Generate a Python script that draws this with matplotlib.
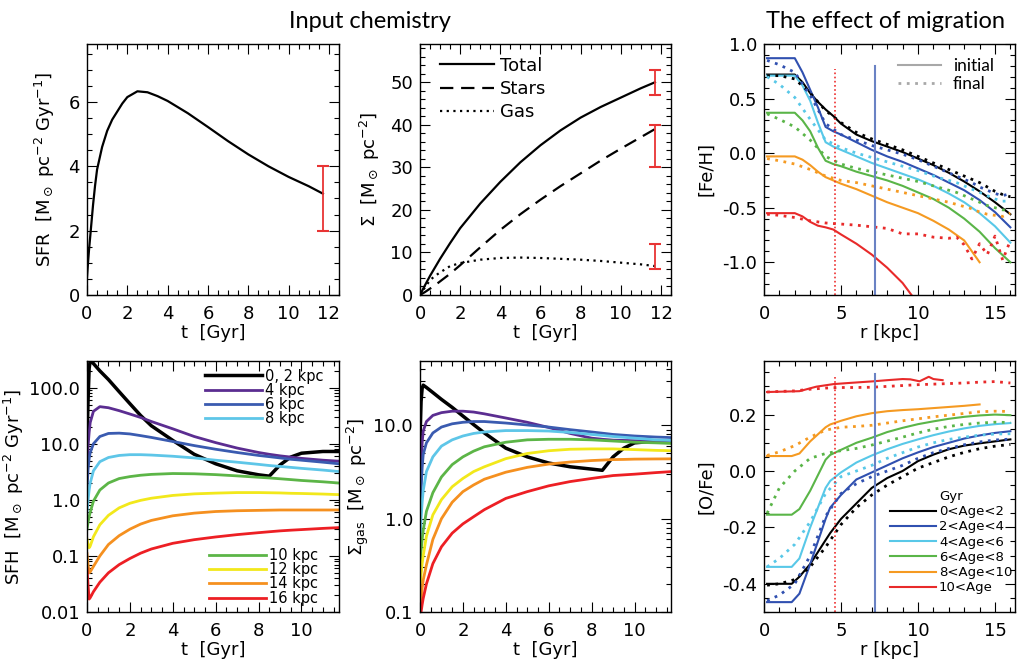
import numpy as np
import matplotlib
matplotlib.use("Agg")
import matplotlib.pyplot as plt
from matplotlib.ticker import MultipleLocator, FixedLocator, FuncFormatter, FormatStrFormatter, LogLocator, NullFormatter

# ---- input chemistry: SFR and surface densities ----
sfr_t = [0, 0.05, 0.1, 0.2, 0.3, 0.4, 0.5, 0.75, 1, 1.25, 1.5, 1.75, 2, 2.5, 3, 3.5, 4, 5, 6, 7, 8, 9, 10, 11, 11.7]
sfr = [0.55, 1.0, 1.4, 2.1, 2.8, 3.4, 3.9, 4.6, 5.1, 5.45, 5.7, 5.95, 6.15, 6.33, 6.3, 6.18, 6.03, 5.65, 5.22, 4.78, 4.37, 4.0, 3.67, 3.38, 3.15]
sfr_err = [11.7, 2.0, 4.0]          # t, low, high

mass_t = [0, 0.25, 0.5, 0.75, 1, 1.5, 2, 3, 4, 5, 6, 7, 8, 9, 10, 11, 11.7]
sig_total = [0, 2.3, 4.5, 6.5, 8.5, 12.2, 15.7, 21.5, 26.6, 31.2, 35.2, 38.7, 41.7, 44.2, 46.4, 48.6, 50]
sig_stars = [0, 0.7, 1.5, 2.3, 3.2, 5.0, 7.0, 11.2, 15.3, 19.0, 22.4, 25.6, 28.6, 31.6, 34.4, 37.1, 39]
sig_gas = [0, 1.8, 3.5, 4.5, 5.3, 6.8, 7.5, 8.3, 8.7, 8.8, 8.7, 8.5, 8.3, 8.0, 7.6, 7.2, 6.8]
sig_err_t = 11.7
sig_err = [(47, 53), (30, 40), (6, 12)]

# ---- SFH and gas per radius ----
t_disk = [0, 0.05, 0.1, 0.15, 0.3, 0.6, 1, 1.5, 2, 2.5, 3, 4, 5, 6, 7, 8, 8.5, 9, 9.5, 10, 11, 11.75]
radii = ['0, 2 kpc', '4 kpc', '6 kpc', '8 kpc', '10 kpc', '12 kpc', '14 kpc', '16 kpc']
radius_colors = ['black', '#5b2d91', '#3a5bb0', '#5ec6e8', '#5cb547', '#f2e81b', '#f5901f', '#ed1f24']

sfh_r2 = [10, 60, 220, 310, 270, 200, 140, 85, 52, 32, 21, 11.5, 6.5, 4.4, 3.3, 2.8, 2.65, 4.2, 5.8, 6.8, 7.3, 7.3]
sfh_r4 = [3, 9, 16, 24, 38, 46, 44, 39, 34, 29.5, 25, 18.5, 13.5, 10.5, 8.4, 7.0, 6.5, 6.1, 5.8, 5.5, 5.1, 4.9]
sfh_r6 = [1.5, 3.5, 5.5, 7, 10, 13.5, 15.3, 15.5, 15, 14, 13, 11, 9.3, 8.0, 7.0, 6.2, 5.9, 5.6, 5.3, 5.1, 4.7, 4.4]
sfh_r8 = [0.6, 1.0, 1.5, 2.0, 3.3, 4.8, 5.7, 6.2, 6.4, 6.4, 6.3, 6.0, 5.6, 5.1, 4.7, 4.3, 4.1, 3.95, 3.8, 3.65, 3.4, 3.2]
sfh_r10 = [0.3, 0.4, 0.5, 0.6, 0.95, 1.5, 2.0, 2.4, 2.6, 2.75, 2.85, 2.95, 2.92, 2.82, 2.68, 2.53, 2.46, 2.38, 2.3, 2.22, 2.1, 2.0]
sfh_r12 = [0.2, 0.16, 0.14, 0.15, 0.22, 0.36, 0.53, 0.72, 0.87, 0.98, 1.07, 1.2, 1.28, 1.32, 1.35, 1.35, 1.34, 1.33, 1.31, 1.3, 1.27, 1.24]
sfh_r14 = [0.11, 0.07, 0.05, 0.052, 0.065, 0.1, 0.16, 0.23, 0.3, 0.37, 0.43, 0.52, 0.58, 0.62, 0.64, 0.65, 0.655, 0.66, 0.66, 0.66, 0.66, 0.66]
sfh_r16 = [0.06, 0.03, 0.017, 0.018, 0.023, 0.034, 0.05, 0.07, 0.09, 0.112, 0.133, 0.168, 0.195, 0.218, 0.24, 0.26, 0.27, 0.28, 0.288, 0.295, 0.31, 0.32]

gas_r2 = [7, 18, 25, 27, 25.5, 22.5, 19, 15.6, 12.6, 10.2, 8.3, 5.7, 4.6, 3.95, 3.6, 3.4, 3.3, 4.6, 5.7, 6.5, 6.8, 6.8]
gas_r4 = [1.5, 4, 6.5, 8.7, 11, 12.8, 13.7, 14.2, 14.2, 13.9, 13.3, 12.0, 10.8, 9.5, 8.2, 7.3, 7.1, 6.95, 6.9, 6.85, 6.75, 6.7]
gas_r6 = [0.95, 2.0, 3.5, 4.9, 6.5, 8.3, 9.6, 10.4, 10.8, 11.0, 11.0, 10.6, 10.1, 9.6, 9.0, 8.5, 8.25, 8.0, 7.85, 7.7, 7.5, 7.4]
gas_r8 = [0.5, 1.0, 1.5, 2.0, 3.2, 4.6, 6.0, 7.0, 7.7, 8.2, 8.5, 8.8, 8.8, 8.7, 8.4, 8.0, 7.8, 7.6, 7.45, 7.3, 7.0, 6.9]
gas_r10 = [0.3, 0.45, 0.6, 0.75, 1.2, 1.9, 2.8, 3.8, 4.6, 5.3, 5.9, 6.6, 7.0, 7.1, 7.1, 7.0, 6.9, 6.8, 6.7, 6.6, 6.5, 6.4]
gas_r12 = [0.17, 0.25, 0.33, 0.4, 0.65, 1.1, 1.6, 2.2, 2.7, 3.2, 3.6, 4.4, 5.0, 5.35, 5.55, 5.6, 5.6, 5.6, 5.55, 5.5, 5.4, 5.35]
gas_r14 = [0.09, 0.13, 0.18, 0.22, 0.32, 0.6, 1.0, 1.5, 1.95, 2.3, 2.65, 3.15, 3.55, 3.85, 4.05, 4.2, 4.25, 4.3, 4.32, 4.35, 4.37, 4.38]
gas_r16 = [0.07, 0.1, 0.12, 0.14, 0.2, 0.33, 0.5, 0.7, 0.88, 1.05, 1.25, 1.65, 1.95, 2.25, 2.5, 2.7, 2.8, 2.9, 2.95, 3.0, 3.12, 3.2]

sfh_curves = [sfh_r2, sfh_r4, sfh_r6, sfh_r8, sfh_r10, sfh_r12, sfh_r14, sfh_r16]
gas_curves = [gas_r2, gas_r4, gas_r6, gas_r8, gas_r10, gas_r12, gas_r14, gas_r16]

# ---- migration: [Fe/H] and [O/Fe] radial profiles ----
ages = ['0<Age<2', '2<Age<4', '4<Age<6', '6<Age<8', '8<Age<10', '10<Age']
age_colors = ['black', '#3050b0', '#58c8e8', '#5ab548', '#f59a22', '#e82a2a']
nan = np.nan

r_feh_i = [0.2, 2.0, 2.5, 3.0, 3.5, 4.0, 4.5, 5, 6, 7, 8, 9, 10, 11, 12, 13, 14, 15, 16]
feh_i = [
    [0.72, 0.72, 0.65, 0.55, 0.47, 0.40, 0.34, 0.27, 0.17, 0.11, 0.06, 0.01, -0.05, -0.11, -0.18, -0.26, -0.35, -0.45, -0.56],
    [0.87, 0.87, 0.74, 0.58, 0.42, 0.24, 0.20, 0.17, 0.10, 0.03, -0.03, -0.08, -0.14, -0.20, -0.27, -0.34, -0.43, -0.54, -0.68],
    [0.71, 0.71, 0.62, 0.48, 0.28, 0.10, 0.06, 0.03, -0.03, -0.09, -0.14, -0.19, -0.24, -0.30, -0.37, -0.45, -0.55, -0.67, -0.82],
    [0.37, 0.37, 0.30, 0.20, 0.05, -0.07, -0.10, -0.12, -0.17, -0.21, -0.25, -0.30, -0.36, -0.42, -0.50, -0.60, -0.72, -0.87, -1.0],
    [-0.03, -0.03, -0.06, -0.11, -0.17, -0.22, -0.25, -0.28, -0.33, -0.39, -0.45, -0.50, -0.55, -0.62, -0.70, -0.80, -1.0, nan, nan],
    [-0.55, -0.55, -0.58, -0.63, -0.665, -0.68, -0.70, -0.745, -0.83, -0.93, -1.05, -1.19, -1.38, nan, nan, nan, nan, nan, nan],
]
r_feh_f = [0.2, 1, 2, 3, 4, 5, 6, 7, 8, 9, 10, 11, 12, 12.5, 13, 13.5, 14, 14.5, 15, 15.5, 16]
feh_f = [
    [0.71, 0.71, 0.68, 0.55, 0.39, 0.28, 0.19, 0.13, 0.08, 0.03, -0.03, -0.09, -0.15, -0.18, -0.21, -0.24, -0.27, -0.31, -0.35, -0.38, -0.40],
    [0.85, 0.81, 0.74, 0.53, 0.27, 0.17, 0.12, 0.07, 0.03, -0.01, -0.06, -0.12, -0.18, -0.21, -0.24, -0.27, -0.31, -0.34, -0.37, -0.39, -0.37],
    [0.70, 0.63, 0.51, 0.31, 0.12, 0.05, 0.0, -0.04, -0.08, -0.12, -0.16, -0.21, -0.25, -0.27, -0.30, -0.33, -0.36, -0.39, -0.42, -0.44, -0.44],
    [0.36, 0.31, 0.24, 0.12, -0.03, -0.10, -0.14, -0.17, -0.20, -0.23, -0.26, -0.30, -0.34, -0.36, -0.39, -0.42, -0.45, -0.48, -0.50, -0.52, -0.52],
    [-0.05, -0.07, -0.10, -0.15, -0.21, -0.25, -0.27, -0.30, -0.33, -0.36, -0.39, -0.42, -0.45, -0.47, -0.49, -0.51, -0.54, -0.56, -0.57, -0.58, -0.55],
    [-0.56, -0.57, -0.59, -0.62, -0.64, -0.65, -0.66, -0.675, -0.69, -0.74, -0.74, -0.77, -0.78, -0.77, -0.84, -0.97, -0.83, -0.93, -0.76, -0.98, -0.80],
]

r_ofe_i = [0.2, 1.8, 2.3, 3, 4, 4.3, 5, 6, 7, 8, 9, 10, 11, 12, 13, 14, 15, 16]
ofe_i = [
    [-0.40, -0.40, -0.375, -0.33, -0.245, -0.22, -0.17, -0.115, -0.06, -0.025, 0.0, 0.035, 0.058, 0.077, 0.09, 0.098, 0.105, 0.112],
    [-0.465, -0.465, -0.435, -0.33, -0.17, -0.13, -0.085, -0.03, -0.005, 0.02, 0.045, 0.066, 0.085, 0.10, 0.115, 0.126, 0.135, 0.141],
    [-0.34, -0.34, -0.31, -0.20, -0.06, -0.035, -0.005, 0.03, 0.055, 0.077, 0.096, 0.112, 0.127, 0.14, 0.151, 0.16, 0.166, 0.17],
    [-0.155, -0.155, -0.135, -0.07, 0.04, 0.057, 0.075, 0.10, 0.118, 0.138, 0.153, 0.166, 0.176, 0.185, 0.192, 0.197, 0.20, 0.198],
    [0.053, 0.053, 0.062, 0.105, 0.155, 0.165, 0.178, 0.194, 0.205, 0.212, 0.216, 0.219, 0.223, 0.227, 0.231, 0.236, nan, nan],
]
r_ofe_i_old = [0.2, 2.3, 3.4, 4.5, 5.5, 7.1, 8, 9.0, 9.5, 10.1, 10.7, 11.0, 11.6]
ofe_i_old = [0.28, 0.283, 0.299, 0.308, 0.312, 0.318, 0.322, 0.326, 0.325, 0.318, 0.334, 0.326, 0.322]
r_ofe_f = [0.2, 1, 2, 3, 4, 5, 6, 7, 8, 9, 10, 11, 12, 13, 14, 15, 16]
ofe_f = [
    [-0.405, -0.40, -0.385, -0.34, -0.27, -0.19, -0.13, -0.085, -0.05, -0.02, 0.01, 0.03, 0.05, 0.066, 0.079, 0.088, 0.094],
    [-0.46, -0.44, -0.40, -0.30, -0.16, -0.08, -0.045, -0.02, 0.0, 0.02, 0.045, 0.065, 0.08, 0.093, 0.103, 0.11, 0.113],
    [-0.34, -0.31, -0.26, -0.18, -0.08, -0.02, 0.0, 0.02, 0.045, 0.065, 0.085, 0.10, 0.112, 0.12, 0.127, 0.131, 0.132],
    [-0.15, -0.06, 0.0, 0.045, 0.062, 0.072, 0.08, 0.092, 0.106, 0.12, 0.135, 0.148, 0.158, 0.165, 0.17, 0.173, 0.172],
    [0.055, 0.068, 0.09, 0.12, 0.145, 0.155, 0.158, 0.162, 0.17, 0.178, 0.185, 0.192, 0.198, 0.204, 0.21, 0.212, 0.211],
    [0.28, 0.282, 0.284, 0.29, 0.294, 0.296, 0.296, 0.297, 0.30, 0.303, 0.306, 0.308, 0.31, 0.312, 0.315, 0.317, 0.312],
]

r_birth = 4.6      # red dotted marker
r_now = 7.2        # blue marker
feh_marker_top = [0.77, 0.80]
ofe_marker_top = [0.34, 0.345]

# ---------------------------------------------------------------
W, H = 1035, 671
fig = plt.figure(figsize=(W / 100, H / 100), dpi=100)
plt.rcParams['font.family'] = 'DejaVu Sans'
plt.rcParams['mathtext.fontset'] = 'dejavusans'


def box(x0, y0, x1, y1):
    return fig.add_axes([x0 / W, 1 - y1 / H, (x1 - x0) / W, (y1 - y0) / H])


def style(ax):
    ax.tick_params(which='both', direction='in', top=True, right=True, labelsize=13, width=0.8)
    ax.tick_params(which='major', length=7)
    ax.tick_params(which='minor', length=3.5)
    ax.tick_params(axis='x', pad=7)
    ax.tick_params(axis='y', pad=5)
    for s in ax.spines.values():
        s.set_linewidth(1.0)


err_red = '#e83434'
dotted = (0, (1, 2))

# ---- top left: SFR ----
ax = box(87, 44, 339, 295)
style(ax)
ax.plot(sfr_t, sfr, color='black', lw=1.6)
ax.errorbar([sfr_err[0]], [(sfr_err[1] + sfr_err[2]) / 2], yerr=[(sfr_err[2] - sfr_err[1]) / 2],
            color=err_red, lw=1.3, capsize=4.5, capthick=1.5)
ax.set_xlim(0, 12.5)
ax.set_ylim(0, 7.8)
ax.xaxis.set_major_locator(MultipleLocator(2))
ax.xaxis.set_minor_locator(MultipleLocator(0.5))
ax.yaxis.set_major_locator(MultipleLocator(2))
ax.yaxis.set_minor_locator(MultipleLocator(0.5))
ax.set_xlabel('t  [Gyr]', fontsize=13, labelpad=1)
ax.set_ylabel(r'SFR  [M$_\odot$ pc$^{-2}$ Gyr$^{-1}$]', fontsize=13, labelpad=8)

# ---- top middle: surface densities ----
ax = box(420, 44, 671, 295)
style(ax)
ax.plot(mass_t, sig_total, color='black', lw=1.6, label='Total')
ax.plot(mass_t, sig_stars, color='black', lw=1.6, ls=(0, (6, 3.5)), label='Stars')
ax.plot(mass_t, sig_gas, color='black', lw=1.6, ls=dotted, label='Gas')
for lo, hi in sig_err:
    ax.errorbar([sig_err_t], [(lo + hi) / 2], yerr=[(hi - lo) / 2],
                color=err_red, lw=1.3, capsize=4.5, capthick=1.5)
ax.set_xlim(0, 12.5)
ax.set_ylim(0, 59)
ax.xaxis.set_major_locator(MultipleLocator(2))
ax.xaxis.set_minor_locator(MultipleLocator(0.5))
ax.yaxis.set_major_locator(MultipleLocator(10))
ax.yaxis.set_minor_locator(MultipleLocator(2))
ax.set_xlabel('t  [Gyr]', fontsize=13, labelpad=1)
ax.set_ylabel(r'$\Sigma$  [M$_\odot$ pc$^{-2}$]', fontsize=13, labelpad=6)
ax.legend(loc='upper left', bbox_to_anchor=(0.08, 0.95), frameon=False, fontsize=13,
          handlelength=3.0, handletextpad=0.3, labelspacing=0.3, borderpad=0, borderaxespad=0)

# ---- top right: [Fe/H] ----
ax = box(764, 44, 1015, 295)
style(ax)
for c, y in zip(age_colors, feh_i):
    ax.plot(r_feh_i, y, color=c, lw=1.5)
for c, y in zip(age_colors, feh_f):
    ax.plot(r_feh_f, y, color=c, lw=2, ls=dotted)
ax.plot([r_birth, r_birth], [-1.3, feh_marker_top[0]], color='#ee3030', lw=1.2, ls=(0, (1, 1.5)))
ax.plot([r_now, r_now], [-1.3, feh_marker_top[1]], color='#6a82c4', lw=1.5)
hi, = ax.plot([], [], color='#a8a8a8', lw=1.5, label='initial')
hf, = ax.plot([], [], color='#a8a8a8', lw=2, ls=dotted, label='final')
ax.legend(handles=[hi, hf], loc='upper left', bbox_to_anchor=(0.534, 0.945), frameon=False,
          prop={'family': 'Lato', 'size': 12.5}, handlelength=2.5, handletextpad=0.65,
          labelspacing=0.15, borderpad=0, borderaxespad=0)
ax.set_xlim(0, 16.3)
ax.set_ylim(-1.3, 1.0)
ax.xaxis.set_major_locator(MultipleLocator(5))
ax.xaxis.set_minor_locator(MultipleLocator(1))
ax.yaxis.set_major_locator(MultipleLocator(0.5))
ax.yaxis.set_minor_locator(MultipleLocator(0.1))
ax.yaxis.set_major_formatter(FormatStrFormatter('%.1f'))
ax.set_xlabel('r [kpc]', fontsize=13, labelpad=1)
ax.set_ylabel('[Fe/H]', fontsize=13, labelpad=5)


def log_fmt(v, _):
    return f'{v:.2f}' if v < 0.1 else f'{v:.1f}'


# ---- bottom left: SFH ----
ax = box(87, 361, 339, 612)
style(ax)
lines = []
for lab, c, y in zip(radii, radius_colors, sfh_curves):
    l, = ax.plot(t_disk, y, color=c, lw=2.5 if c == 'black' else 2, label=lab)
    lines.append(l)
ax.set_yscale('log')
ax.set_xlim(0, 11.75)
ax.set_ylim(0.01, 300)
ax.xaxis.set_major_locator(MultipleLocator(2))
ax.xaxis.set_minor_locator(MultipleLocator(0.5))
ax.yaxis.set_major_locator(FixedLocator([0.01, 0.1, 1, 10, 100]))
ax.yaxis.set_major_formatter(FuncFormatter(log_fmt))
ax.yaxis.set_minor_locator(LogLocator(base=10, subs=np.arange(2, 10)))
ax.yaxis.set_minor_formatter(NullFormatter())
ax.set_xlabel('t  [Gyr]', fontsize=13, labelpad=1)
ax.set_ylabel(r'SFH  [M$_\odot$ pc$^{-2}$ Gyr$^{-1}$]', fontsize=13, labelpad=2)
leg1 = ax.legend(handles=lines[:4], loc='upper left', bbox_to_anchor=(0.468, 0.97), frameon=False,
                 fontsize=10.5, handlelength=3.9, handletextpad=0.25, labelspacing=-0.05,
                 borderpad=0, borderaxespad=0)
ax.add_artist(leg1)
ax.legend(handles=lines[4:], loc='lower left', bbox_to_anchor=(0.484, 0.025), frameon=False,
          fontsize=10.5, handlelength=3.9, handletextpad=0.25, labelspacing=-0.05,
          borderpad=0, borderaxespad=0)

# ---- bottom middle: gas ----
ax = box(420, 361, 671, 612)
style(ax)
for c, y in zip(radius_colors, gas_curves):
    ax.plot(t_disk, y, color=c, lw=2.5 if c == 'black' else 2)
ax.set_yscale('log')
ax.set_xlim(0, 11.7)
ax.set_ylim(0.1, 49)
ax.xaxis.set_major_locator(MultipleLocator(2))
ax.xaxis.set_minor_locator(MultipleLocator(0.5))
ax.yaxis.set_major_locator(FixedLocator([0.1, 1, 10]))
ax.yaxis.set_major_formatter(FuncFormatter(log_fmt))
ax.yaxis.set_minor_locator(LogLocator(base=10, subs=np.arange(2, 10)))
ax.yaxis.set_minor_formatter(NullFormatter())
ax.set_xlabel('t  [Gyr]', fontsize=13, labelpad=1)
ax.set_ylabel(r'$\Sigma_{\rm gas}$  [M$_\odot$ pc$^{-2}$]', fontsize=13, labelpad=2)

# ---- bottom right: [O/Fe] ----
ax = box(764, 361, 1015, 612)
style(ax)
handles = []
for lab, c, y in zip(ages[:5], age_colors[:5], ofe_i):
    l, = ax.plot(r_ofe_i, y, color=c, lw=1.5, label=lab)
    handles.append(l)
l, = ax.plot(r_ofe_i_old, ofe_i_old, color=age_colors[5], lw=1.5, label=ages[5])
handles.append(l)
for c, y in zip(age_colors, ofe_f):
    ax.plot(r_ofe_f, y, color=c, lw=2, ls=dotted)
ax.plot([r_birth, r_birth], [-0.5, ofe_marker_top[0]], color='#ee3030', lw=1.2, ls=(0, (1, 1.5)))
ax.plot([r_now, r_now], [-0.5, ofe_marker_top[1]], color='#6a82c4', lw=1.5)
ax.set_xlim(0, 16.3)
ax.set_ylim(-0.5, 0.39)
ax.xaxis.set_major_locator(MultipleLocator(5))
ax.xaxis.set_minor_locator(MultipleLocator(1))
ax.yaxis.set_major_locator(MultipleLocator(0.2))
ax.yaxis.set_minor_locator(MultipleLocator(0.05))
ax.yaxis.set_major_formatter(FormatStrFormatter('%.1f'))
ax.set_xlabel('r [kpc]', fontsize=13, labelpad=1)
ax.set_ylabel('[O/Fe]', fontsize=13, labelpad=5)
leg = ax.legend(handles=handles, loc='lower left', bbox_to_anchor=(0.50, 0.07), frameon=False,
                fontsize=9.5, title='Gyr', title_fontsize=9.5, handlelength=3.5, handletextpad=0.25,
                labelspacing=0.17, borderpad=0, borderaxespad=0)

# ---- titles ----
fig.text(370 / W, 1 - 28 / H, 'Input chemistry', ha='center', va='baseline', family='Lato', fontsize=17)
fig.text(885 / W, 1 - 28 / H, 'The effect of migration', ha='center', va='baseline', family='Lato', fontsize=17)

fig.savefig('out.png', dpi=100)
